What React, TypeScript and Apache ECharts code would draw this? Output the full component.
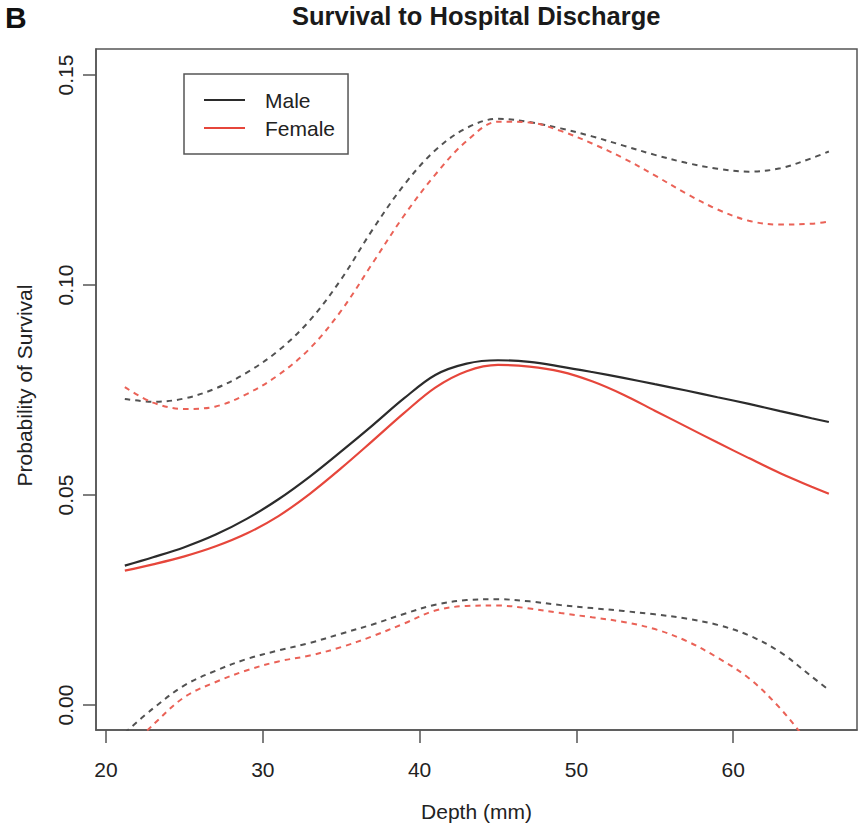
import React, { useEffect, useRef } from "react";
import * as echarts from "echarts";

// ---- data ----
const xTicks = [20, 30, 40, 50, 60];
const yTicks = [0, 0.05, 0.1, 0.15];

// depth (mm) at which every curve was read
const depth = [21.2, 23, 25, 27, 29, 31, 33, 35, 37, 39, 41, 43, 45, 47, 49, 51, 53, 55, 57, 59, 61, 63, 65, 66.1];

const maleFit = [0.0332, 0.0352, 0.0376, 0.0406, 0.0444, 0.049, 0.0544, 0.0604, 0.0666, 0.073, 0.0786, 0.0813, 0.0821, 0.0817, 0.0806, 0.0793, 0.0779, 0.0764, 0.0749, 0.0733, 0.0717, 0.07, 0.0683, 0.0674];
const femaleFit = [0.032, 0.0335, 0.0354, 0.0378, 0.0409, 0.045, 0.0503, 0.0564, 0.0629, 0.0695, 0.0756, 0.0795, 0.081, 0.0806, 0.0794, 0.0771, 0.0739, 0.0701, 0.0663, 0.0625, 0.0588, 0.0552, 0.052, 0.0503];

const maleUpper = [0.0729, 0.0722, 0.073, 0.0754, 0.0792, 0.0844, 0.0916, 0.1014, 0.1132, 0.1238, 0.1321, 0.1374, 0.1396, 0.1388, 0.1373, 0.1354, 0.1332, 0.131, 0.1291, 0.1277, 0.127, 0.1278, 0.1302, 0.1318];
const femaleUpper = [0.0757, 0.072, 0.0705, 0.0711, 0.0741, 0.0786, 0.0849, 0.0939, 0.1052, 0.1165, 0.1263, 0.1343, 0.1389, 0.1387, 0.1367, 0.1337, 0.1302, 0.1261, 0.1218, 0.118, 0.1153, 0.1144, 0.1146, 0.1151];

const maleLower = [-0.0066, -0.0008, 0.0047, 0.0082, 0.011, 0.013, 0.0148, 0.017, 0.0192, 0.0217, 0.0239, 0.025, 0.0252, 0.0247, 0.0238, 0.0231, 0.0224, 0.0216, 0.0206, 0.0191, 0.0166, 0.0126, 0.0068, 0.0036];
const femaleLower = [-0.0114, -0.0047, 0.0019, 0.0055, 0.0083, 0.0104, 0.0118, 0.0138, 0.0164, 0.0194, 0.0225, 0.0236, 0.0237, 0.023, 0.0219, 0.0209, 0.0198, 0.0181, 0.0153, 0.0113, 0.0064, -0.0008, -0.01, -0.0154];

const zip = (xs: number[], ys: number[]) => xs.map((x, i) => [x, ys[i]]);

const FONT = "'Liberation Sans', Arial, Helvetica, sans-serif";
const BLACK = "#2b2b2b";
const RED = "#e6463b";
const BLACK_DASH = "#525252";
const RED_DASH = "#ea6257";
const AXIS = "#555555";
const SMOOTH = 0.35;

export default function App() {
  const ref = useRef<HTMLDivElement>(null);

  useEffect(() => {
    if (!ref.current) return;
    const chart = echarts.init(ref.current, undefined, { renderer: "svg" });

    const dashed = (name: string, data: number[][], color: string) => ({
      name,
      type: "line",
      data,
      symbol: "none",
      smooth: SMOOTH,
      lineStyle: { color, width: 2, type: [5.5, 5] },
      itemStyle: { color },
      z: 2,
    });

    chart.setOption({
      animation: false,
      backgroundColor: "#ffffff",
      title: {
        text: "Survival to Hospital Discharge",
        left: 292,
        top: 3,
        padding: 0,
        textStyle: { fontFamily: FONT, fontSize: 25.5, fontWeight: "bold", color: "#1a1a1a" },
      },
      graphic: [
        {
          type: "text",
          left: 5,
          top: 2,
          style: { text: "B", fontFamily: FONT, fontSize: 30, fontWeight: "bold", fill: "#111" },
        },
      ],
      legend: {
        data: ["Male", "Female"],
        orient: "vertical",
        left: 184,
        top: 74,
        padding: [14, 13, 14, 20],
        icon: "rect",
        itemWidth: 41,
        itemHeight: 2.2,
        itemGap: 4,
        borderColor: AXIS,
        borderWidth: 1.5,
        borderRadius: 0,
        textStyle: { fontFamily: FONT, fontSize: 21, color: "#222", lineHeight: 24, padding: [0, 0, 0, 15] },
      },
      grid: {
        left: 96,
        top: 49,
        right: 2,
        bottom: 95,
        show: true,
        borderColor: AXIS,
        borderWidth: 1.5,
        backgroundColor: "transparent",
        containLabel: false,
      },
      xAxis: {
        type: "value",
        min: 19.362,
        max: 67.895,
        name: "Depth (mm)",
        nameLocation: "middle",
        nameGap: 71,
        nameTextStyle: { fontFamily: FONT, fontSize: 21, color: "#222" },
        axisLine: { show: true, onZero: false, lineStyle: { color: AXIS, width: 1.5 } },
        axisTick: { show: true, length: 13, customValues: xTicks, lineStyle: { color: AXIS, width: 1.5 } },
        axisLabel: { customValues: xTicks, fontFamily: FONT, fontSize: 21, color: "#222", margin: 29 },
        splitLine: { show: false },
      },
      yAxis: {
        type: "value",
        min: -0.00593,
        max: 0.1562,
        name: "Probability of Survival",
        nameLocation: "middle",
        nameRotate: 90,
        nameGap: 61,
        nameTextStyle: { fontFamily: FONT, fontSize: 21, color: "#222", padding: [0, 0, 0, 8] },
        axisLine: { show: true, onZero: false, lineStyle: { color: AXIS, width: 1.5 } },
        axisTick: { show: true, length: 13, customValues: yTicks, lineStyle: { color: AXIS, width: 1.5 } },
        axisLabel: {
          customValues: yTicks,
          rotate: 90,
          fontFamily: FONT,
          fontSize: 21,
          color: "#222",
          margin: 20,
          formatter: (v: number) => v.toFixed(2),
        },
        splitLine: { show: false },
      },
      series: [
        dashed("Male upper", zip(depth, maleUpper), BLACK_DASH),
        dashed("Female upper", zip(depth, femaleUpper), RED_DASH),
        dashed("Male lower", zip(depth, maleLower), BLACK_DASH),
        dashed("Female lower", zip(depth, femaleLower), RED_DASH),
        {
          name: "Male",
          type: "line",
          data: zip(depth, maleFit),
          symbol: "none",
          smooth: SMOOTH,
          lineStyle: { color: BLACK, width: 2.2 },
          itemStyle: { color: BLACK },
          z: 3,
        },
        {
          name: "Female",
          type: "line",
          data: zip(depth, femaleFit),
          symbol: "none",
          smooth: SMOOTH,
          lineStyle: { color: RED, width: 2.2 },
          itemStyle: { color: RED },
          z: 3,
        },
      ],
    });

    return () => chart.dispose();
  }, []);

  return (
    <div
      ref={ref}
      style={{ position: "fixed", left: 0, top: 0, width: 859, height: 827, background: "#fff" }}
    />
  );
}
